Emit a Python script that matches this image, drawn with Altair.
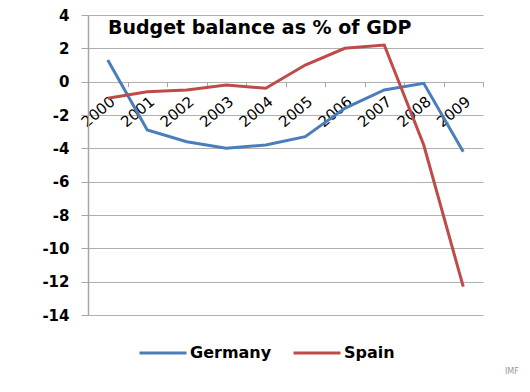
import altair as alt
import pandas as pd

years = ["2000", "2001", "2002", "2003", "2004", "2005", "2006", "2007", "2008", "2009"]
germany = [1.3, -2.9, -3.6, -4.0, -3.8, -3.3, -1.6, -0.5, -0.1, -4.2]
spain = [-1.0, -0.6, -0.5, -0.2, -0.4, 1.0, 2.0, 2.2, -3.8, -12.3]
series = ["Germany", "Spain"]
colors = ["#4a7ebb", "#be4b48"]
y_ticks = [-14, -12, -10, -8, -6, -4, -2, 0, 2, 4]
title_text = "Budget balance as % of GDP"
source = ["IMF"]

W, H = 395, 300
ymin, ymax = -14, 4
zero_px = H * (ymax - 0) / (ymax - ymin)

rows = []
for name, vals in zip(series, [germany, spain]):
    for yr, v in zip(years, vals):
        rows.append({"year": yr, "value": v, "country": name})
df = pd.DataFrame(rows)

FONT = "DejaVu Sans"

lines = alt.Chart(df).mark_line(strokeWidth=3).encode(
    x=alt.X("year:O", title=None, bandPosition=0.5,
            scale=alt.Scale(type="band", paddingInner=0, paddingOuter=0),
            axis=alt.Axis(labelAngle=-40, offset=-(H - zero_px), domain=False,
                          tickBand="extent", tickColor="#a6a6a6", tickSize=5,
                          labelFontSize=15, labelFont=FONT, labelColor="#000000",
                          labelPadding=7, grid=False)),
    y=alt.Y("value:Q", title=None,
            scale=alt.Scale(domain=[ymin, ymax], nice=False, zero=False),
            axis=alt.Axis(values=y_ticks, domainColor="#a6a6a6", domainWidth=1.5,
                          gridColor="#b0b0b0", gridWidth=1.2, tickColor="#a6a6a6",
                          tickSize=7, labelPadding=12, labelFontSize=15,
                          labelExpr="datum.value + ''",
                          labelFontWeight="bold", labelFont=FONT, labelColor="#000000")),
    color=alt.Color("country:N", title=None,
                    scale=alt.Scale(domain=series, range=colors),
                    legend=alt.Legend(orient="none", legendX=50, legendY=313,
                                      direction="horizontal", symbolType="stroke",
                                      symbolStrokeWidth=3, symbolSize=2209,
                                      labelFontSize=16, labelFontWeight="bold",
                                      labelFont=FONT, labelColor="#000000",
                                      columnPadding=15, labelOffset=2)),
)

src = alt.Chart(pd.DataFrame({"t": source})).mark_text(
    fontSize=8, color="#999999", font=FONT, align="left"
).encode(text="t:N", x=alt.value(W + 22), y=alt.value(H + 57))

chart = alt.layer(lines, src).properties(
    width=W, height=H,
    padding={"left": 33, "top": 0, "right": 0, "bottom": 0},
    title=alt.TitleParams(title_text, anchor="start", frame="group", offset=-30,
                          dx=20, fontSize=19, fontWeight="bold", font=FONT,
                          color="#000000"),
).configure_view(stroke=None)

chart.save("out.html", embed_options={"renderer": "svg", "actions": False})
